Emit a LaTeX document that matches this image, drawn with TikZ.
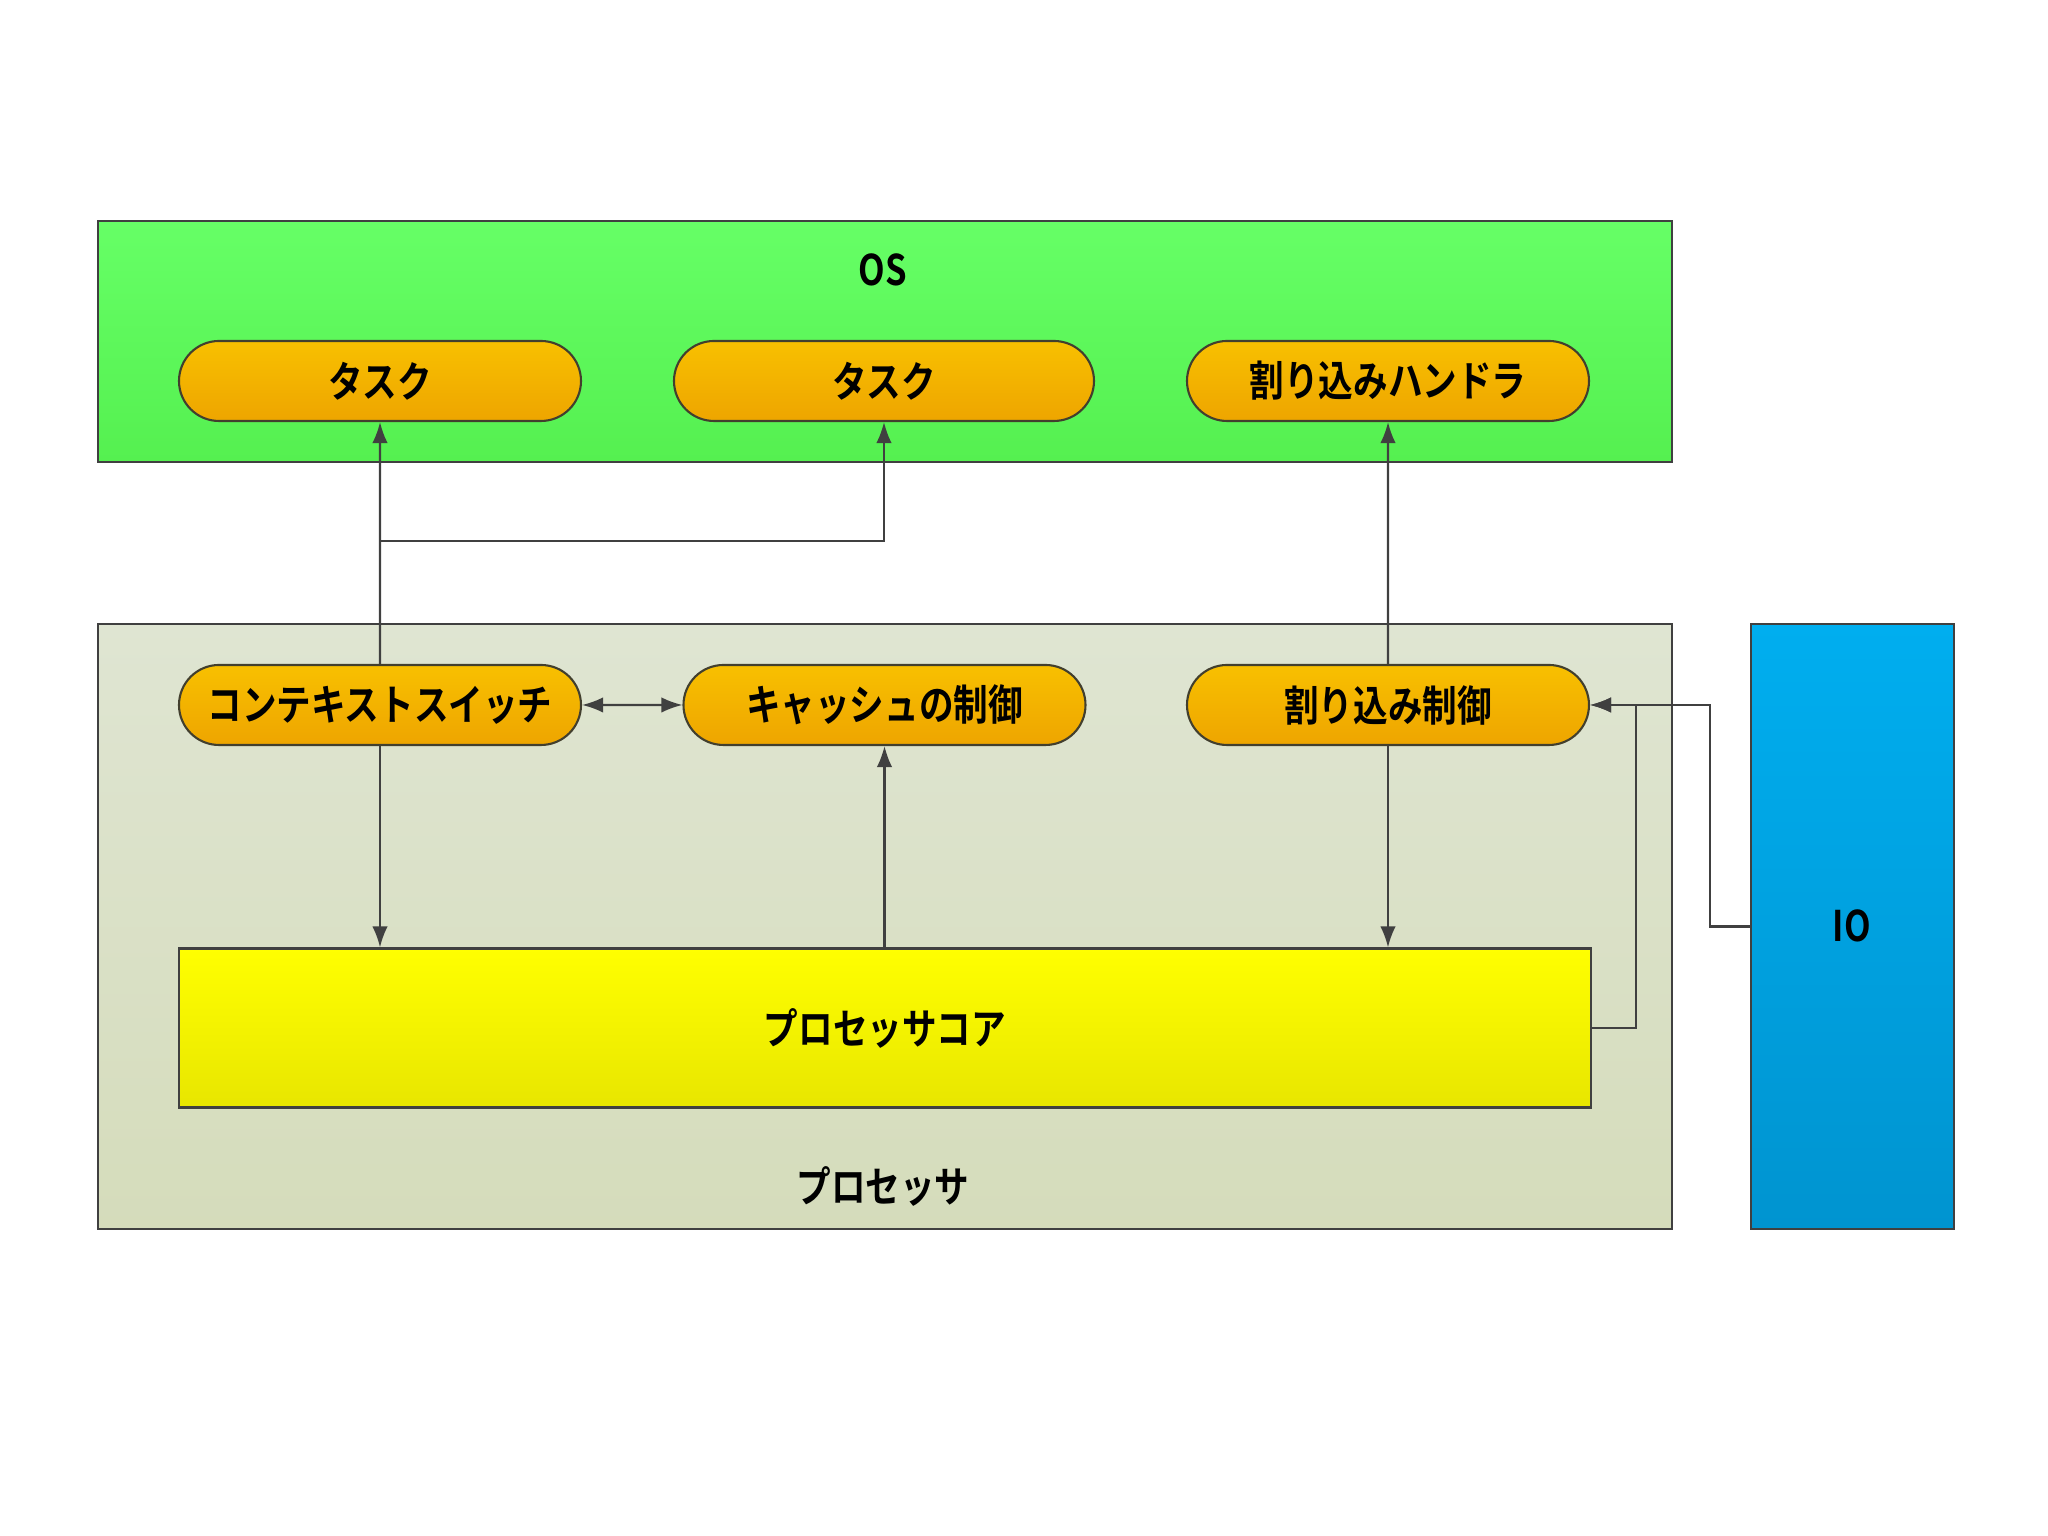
\documentclass[tikz,border=0pt]{standalone}
\usepackage{fontspec}
\usepackage{tikz}
\usetikzlibrary{arrows.meta,shapes.misc}
\newfontfamily\jpfont{Noto Sans CJK JP Bold}[FakeStretch=0.82]

\definecolor{osgreen}{HTML}{66FF66}
\definecolor{osgreendk}{HTML}{55F050}
\definecolor{pillor}{HTML}{F8C000}
\definecolor{pillordk}{HTML}{EEA500}
\definecolor{procbg}{HTML}{DFE5D2}
\definecolor{procbgdk}{HTML}{D5DCBB}
\definecolor{coreyl}{HTML}{FFFF00}
\definecolor{coreyldk}{HTML}{E8E600}
\definecolor{ioblue}{HTML}{00AEEF}
\definecolor{iobluedk}{HTML}{0094D0}
\definecolor{wire}{HTML}{404040}

\tikzset{
  pill/.style={rounded rectangle, draw=black!70!olive, line width=0.6pt,
    top color=pillor, bottom color=pillordk,
    minimum width=4.02cm, minimum height=0.80cm, inner sep=0pt},
  frame/.style={draw=wire, line width=0.6pt},
  arr/.style={draw=wire, line width=0.6pt, -{Latex[length=6pt,width=4.4pt]}},
  arrb/.style={draw=wire, line width=0.6pt, {Latex[length=6pt,width=4.4pt]}-{Latex[length=6pt,width=4.4pt]}}
}

\begin{document}
\begin{tikzpicture}[font=\jpfont\fontsize{12}{14}\selectfont]

    \useasboundingbox (0,0) rectangle (20.48,15.36);

    % frames
    \draw[frame, top color=osgreen, bottom color=osgreendk] (0.98,13.15) rectangle (16.72,10.74);
    \draw[frame, top color=procbg, bottom color=procbgdk] (0.98,9.12) rectangle (16.72,3.07);
    \node[frame, top color=ioblue, bottom color=iobluedk, minimum width=2.03cm, minimum height=6.05cm] (io) at (18.525,6.095) {};
    \node (oslbl) at (8.83,12.66) {OS};
    \node (proclbl) at (8.83,3.50) {プロセッサ};
    \node (iolbl) at (18.52,6.10) {IO};

    % OS side
    \node[pill] (t1) at (3.80,11.55) {タスク};
    \node[pill, minimum width=4.20cm] (t2) at (8.84,11.55) {タスク};
    \node[pill] (ih) at (13.88,11.55) {割り込みハンドラ};

    % processor side
    \node[pill] (cs) at (3.80,8.31) {コンテキストスイッチ};
    \node[pill] (cache) at (8.845,8.31) {キャッシュの制御};
    \node[pill] (ic) at (13.88,8.31) {割り込み制御};
    \node[frame, top color=coreyl, bottom color=coreyldk, minimum width=14.12cm, minimum height=1.59cm] (core) at (8.85,5.08) {プロセッサコア};

    \coordinate (br) at (3.80,9.95);

    \draw[arr] (cs) -- (t1);
    \draw[arr] (br) -| (t2.south);
    \draw[arrb] (cs) -- (cache);
    \draw[arr] (cs.south) -- (cs.south |- core.north);
    \draw[arr] (core.north -| cache) -- (cache.south);
    \draw[arr] (ic) -- (ih);
    \draw[arr] (ic.south) -- (ic.south |- core.north);
    \draw[arr] (core.east) -- ++(0.44,0) |- (ic.east);
    \draw[arr] (io.west) -- ++(-0.40,0) |- (ic.east);

\end{tikzpicture}
\end{document}
